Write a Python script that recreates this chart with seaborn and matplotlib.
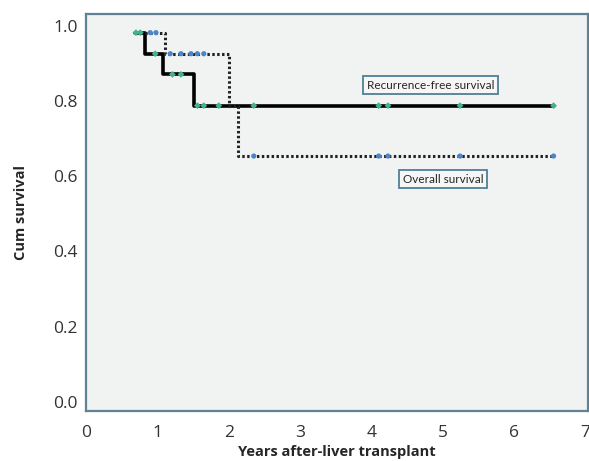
import numpy as np
import pandas as pd
import matplotlib
matplotlib.use('Agg')
import matplotlib.pyplot as plt
import matplotlib.transforms as mtransforms
import seaborn as sns

# step curves (time in years, cumulative survival)
rfs_time = [0.68, 0.82, 1.08, 1.51, 6.55]
rfs_surv = [1.0, 0.944, 0.889, 0.806, 0.806]
os_time = [0.68, 1.11, 2.01, 2.13, 6.55]
os_surv = [1.0, 0.944, 0.806, 0.672, 0.672]

# censored observations
rfs_cens_t = [0.70, 0.76, 0.97, 1.21, 1.33, 1.56, 1.65, 1.86, 2.35, 4.10, 4.23, 5.24, 6.55]
rfs_cens_s = [1.0, 1.0, 0.944, 0.889, 0.889, 0.806, 0.806, 0.806, 0.806, 0.806, 0.806, 0.806, 0.806]
os_cens_t = [0.90, 0.98, 1.18, 1.33, 1.47, 1.56, 1.65, 2.35, 4.10, 4.23, 5.24, 6.55]
os_cens_s = [1.0, 1.0, 0.944, 0.944, 0.944, 0.944, 0.944, 0.672, 0.672, 0.672, 0.672, 0.672]

sns.set_style('white')
plt.rcParams['font.family'] = ['Open Sans', 'DejaVu Sans']

fig = plt.figure(figsize=(5.89, 4.61), dpi=100)
ax = fig.add_axes([0.146, 0.109, 0.852, 0.861])
ax.set_facecolor('#f1f2f2')

sns.lineplot(x=rfs_time, y=rfs_surv, drawstyle='steps-post', color='black',
             linewidth=2.6, estimator=None, sort=False, ax=ax)
sns.lineplot(x=os_time, y=os_surv, drawstyle='steps-post', color='#222222',
             linewidth=2.2, linestyle=(0, (0.8, 0.8)), estimator=None, sort=False, ax=ax)
sns.scatterplot(x=rfs_cens_t, y=rfs_cens_s, color='#3fb68a', s=12, marker='D',
                edgecolor='none', zorder=5, ax=ax)
sns.scatterplot(x=os_cens_t, y=os_cens_s, color='#4a86c8', s=14, marker='o',
                edgecolor='none', zorder=5, ax=ax)

box = dict(boxstyle='square,pad=0.3', facecolor='#f6f6f6', edgecolor='#4f7f96', linewidth=1.3)
ax.text(4.83, 0.86, 'Recurrence-free survival', fontsize=8.5, ha='center', va='center',
        bbox=box, family=['Lato', 'DejaVu Sans'])
ax.text(5.0, 0.61, 'Overall survival', fontsize=8.5, ha='center', va='center',
        bbox=box, family=['Lato', 'DejaVu Sans'])

ax.set_xlim(0, 7.03)
ax.set_ylim(-0.005, 1.05)
ax.set_xticks(range(0, 8))
ax.set_yticks([0.0, 0.2, 0.4, 0.6, 0.8, 1.0])
ax.set_yticklabels(['0.0', '0.2', '0.4', '0.6', '0.8', '1.0'])
ax.tick_params(axis='both', labelsize=12.5, length=4, width=1.2, color='#4f7f96',
               labelcolor='#333333', direction='out', pad=2)
ax.tick_params(axis='x', pad=6)
# y tick labels sit a little above their ticks
shift = mtransforms.ScaledTranslation(0, 0.07, fig.dpi_scale_trans)
for lab in ax.get_yticklabels():
    lab.set_transform(lab.get_transform() + shift)
for s in ax.spines.values():
    s.set_visible(True)
    s.set_color('#5f8294')
    s.set_linewidth(1.6)

ax.set_xlabel('Years after-liver transplant', fontsize=10.5, fontweight='bold', labelpad=3)
ax.set_ylabel('Cum survival', fontsize=10.5, fontweight='bold', labelpad=18)

fig.savefig('out.png', dpi=100)
